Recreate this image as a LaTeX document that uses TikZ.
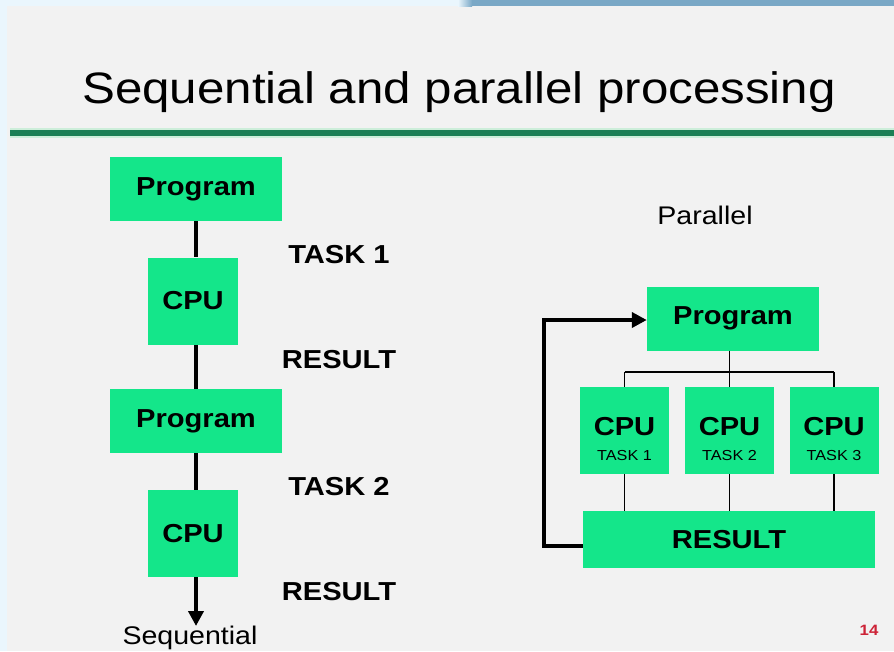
\documentclass[tikz,border=0pt]{standalone}
\usepackage{fontspec}
\setmainfont{Liberation Sans}[FakeStretch=1.12]
\usetikzlibrary{arrows.meta}
\definecolor{bg}{RGB}{242,242,242}
\definecolor{edgeblue}{RGB}{234,246,253}
\definecolor{bar}{RGB}{122,168,198}
\definecolor{rulegreen}{RGB}{27,127,85}
\definecolor{rulelight}{RGB}{205,238,218}
\definecolor{boxg}{RGB}{20,230,138}
\definecolor{pnum}{RGB}{205,35,55}
\begin{document}
\begin{tikzpicture}[x=1pt,y=-1pt,
  box/.style={fill=boxg, inner sep=0pt, text=black, font=\fontsize{26}{28}\selectfont\bfseries},
  progbox/.style={box, minimum width=172pt, minimum height=64pt},
  cpubox/.style={box, minimum width=90pt, minimum height=87pt},
  lbl/.style={font=\fontsize{26}{28}\selectfont\bfseries, anchor=base, inner sep=0pt},
  small/.style={font=\fontsize{14.5}{16}\selectfont, anchor=base, inner sep=0pt},
  plain/.style={font=\fontsize{25.5}{28}\selectfont, anchor=base, inner sep=0pt},
  heavy/.style={line width=4pt},
  light/.style={line width=1.5pt},
  tip/.style={-{Triangle[length=15pt,width=15pt]}}]
\useasboundingbox (0,0) rectangle (894,651);
% background
\fill[edgeblue] (0,0) rectangle (894,651);
\fill[bg] (7,6) rectangle (894,651);
\shade[left color=edgeblue, right color=bar] (458,0) rectangle (472,6);
\fill[bar] (472,0) rectangle (894,6);
% title and rule
\node[font=\fontsize{44}{48}\selectfont, anchor=base, inner sep=0pt] (title) at (459,103) {Sequential and parallel processing};
\fill[rulelight] (10,128) rectangle (894,138);
\fill[rulegreen] (10,130) rectangle (894,136);

% ---------- sequential ----------
\node[progbox] (p1) at (196,189) {Program};
\node[cpubox]  (c1) at (193,301) {CPU};
\node[progbox] (p2) at (196,421) {Program};
\node[cpubox]  (c2) at (193,533.5) {CPU};
\coordinate (seqend) at (196,626);
\draw[heavy] (p1.south) -- (p1.south |- c1.north);
\draw[heavy] (p1.south |- c1.south) -- (p2.north);
\draw[heavy] (p2.south) -- (p2.south |- c2.north);
\draw[heavy, tip] (p2.south |- c2.south) -- (seqend);
\node[lbl] (t1) at (339,263) {TASK 1};
\node[lbl] (r1) at (339,368) {RESULT};
\node[lbl] (t2) at (339,495) {TASK 2};
\node[lbl] (r2) at (339,600) {RESULT};
\node[plain] (seq) at (190,644) {Sequential};

% ---------- parallel ----------
\node[plain] (par) at (705,224) {Parallel};
\node[progbox] (pp) at (733,318.5) {Program};
\node[cpubox, minimum width=89pt] (k1) at (624.5,430.5) {};
\node[cpubox, minimum width=89pt] (k2) at (729.5,430.5) {};
\node[cpubox, minimum width=89pt] (k3) at (834,430.5) {};
\node[lbl] at (624.5,435) {CPU};
\node[small] at (624.5,460) {TASK 1};
\node[lbl] at (729.5,435) {CPU};
\node[small] at (729.5,460) {TASK 2};
\node[lbl] at (834,435) {CPU};
\node[small] at (834,460) {TASK 3};
\node[box, minimum width=292pt, minimum height=57pt] (res) at (729,539.5) {RESULT};
\coordinate (bus) at (0,372);
\draw[light] (pp.south -| k2.north) -- (k2.north);
\draw[light] (k1.north |- bus) -- (k3.north |- bus);
\draw[light] (k1.north |- bus) -- (k1.north);
\draw[light] (k3.north |- bus) -- (k3.north);
\draw[light] (k1.south) -- (k1.south |- res.north);
\draw[light] (k2.south) -- (k2.south |- res.north);
\draw[light] (k3.south) -- (k3.south |- res.north);
\coordinate (fbl) at (544,546);
\coordinate (fbt) at (544,320);
\draw[heavy, tip] (res.west |- fbl) -- (fbl) -- (fbt) -- (pp.west |- fbt);

% page number
\node[font=\fontsize{15}{16}\selectfont\bfseries, text=pnum, inner sep=0pt] (pg) at (869,630) {14};
\end{tikzpicture}
\end{document}
